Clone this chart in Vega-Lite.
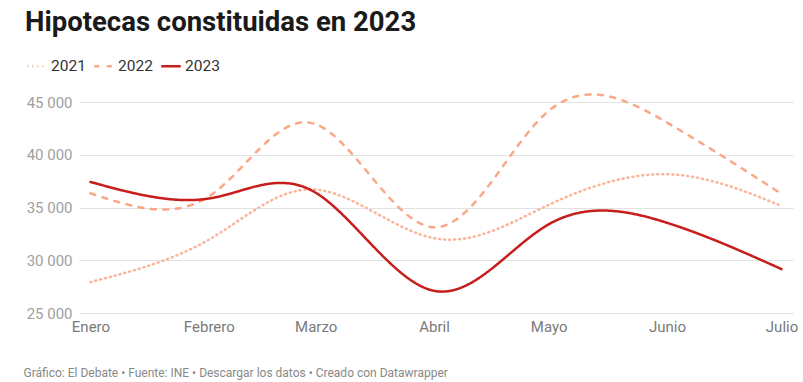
{
  "$schema": "https://vega.github.io/schema/vega-lite/v6.json",
  "autosize": {"type": "none"},
  "width": 714,
  "height": 211,
  "padding": {"left": 79, "top": 102, "right": 10, "bottom": 69},
  "background": "#ffffff",
  "title": {
    "text": "Hipotecas constituidas en 2023",
    "anchor": "start",
    "frame": "bounds",
    "font": "Roboto",
    "fontSize": 27.5,
    "fontWeight": "bold",
    "color": "#1a1a1a",
    "offset": 19,
    "dx": 2
  },
  "config": {
    "view": {"stroke": null},
    "font": "Roboto"
  },
  "data": {
    "values": [
      {"mes": "2023-01-01", "serie": "2021", "valor": 27930},
      {"mes": "2023-02-01", "serie": "2021", "valor": 31950},
      {"mes": "2023-03-01", "serie": "2021", "valor": 36700},
      {"mes": "2023-04-01", "serie": "2021", "valor": 32090},
      {"mes": "2023-05-01", "serie": "2021", "valor": 35250},
      {"mes": "2023-06-01", "serie": "2021", "valor": 38150},
      {"mes": "2023-07-01", "serie": "2021", "valor": 35150},
      {"mes": "2023-01-01", "serie": "2022", "valor": 36350},
      {"mes": "2023-02-01", "serie": "2022", "valor": 36050},
      {"mes": "2023-03-01", "serie": "2022", "valor": 42900},
      {"mes": "2023-04-01", "serie": "2022", "valor": 33130},
      {"mes": "2023-05-01", "serie": "2022", "valor": 44150},
      {"mes": "2023-06-01", "serie": "2022", "valor": 43050},
      {"mes": "2023-07-01", "serie": "2022", "valor": 36290},
      {"mes": "2023-01-01", "serie": "2023", "valor": 37420},
      {"mes": "2023-02-01", "serie": "2023", "valor": 35850},
      {"mes": "2023-03-01", "serie": "2023", "valor": 36400},
      {"mes": "2023-04-01", "serie": "2023", "valor": 27100},
      {"mes": "2023-05-01", "serie": "2023", "valor": 33400},
      {"mes": "2023-06-01", "serie": "2023", "valor": 33550},
      {"mes": "2023-07-01", "serie": "2023", "valor": 29160}
    ]
  },
  "mark": {"type": "line", "interpolate": "natural", "strokeWidth": 2.5, "strokeCap": "round"},
  "encoding": {
    "x": {
      "field": "mes",
      "type": "temporal",
      "scale": {"type": "utc", "domain": [1672272000000, 1688428800000]},
      "axis": {
        "title": "Gráfico: El Debate • Fuente: INE • Descargar los datos • Creado con Datawrapper",
        "titleFont": "Roboto",
        "titleFontSize": 12,
        "titleFontWeight": "normal",
        "titleColor": "#888888",
        "titleAnchor": "start",
        "titleAlign": "left",
        "titleBaseline": "alphabetic",
        "titleX": -56,
        "titleY": 63,
        "values": [1672531200000, 1675209600000, 1677628800000, 1680307200000, 1682899200000, 1685577600000, 1688169600000],
        "labelExpr": "['Enero','Febrero','Marzo','Abril','Mayo','Junio','Julio','Agosto','Septiembre','Octubre','Noviembre','Diciembre'][utcmonth(datum.value)]",
        "labelFont": "Roboto",
        "labelFontSize": 15,
        "labelColor": "#7a7a7a",
        "labelPadding": 6,
        "labelOverlap": false,
        "labelFlush": false,
        "domain": false,
        "ticks": false,
        "grid": false
      }
    },
    "y": {
      "field": "valor",
      "type": "quantitative",
      "scale": {"domain": [25000, 45000], "nice": false, "zero": false},
      "axis": {
        "title": null,
        "values": [25000, 30000, 35000, 40000, 45000],
        "labelExpr": "replace(format(datum.value, ','), ',', ' ')",
        "labelFont": "Roboto",
        "labelFontSize": 15,
        "labelColor": "#a0a0a0",
        "labelPadding": 7,
        "domain": false,
        "ticks": false,
        "grid": true,
        "gridColor": "#e2e2e2",
        "gridWidth": 1
      }
    },
    "color": {
      "field": "serie",
      "type": "nominal",
      "scale": {"domain": ["2021", "2022", "2023"], "range": ["#fbb497", "#f9a785", "#c71e1d"]},
      "legend": {
        "title": null,
        "orient": "none",
        "legendX": -53,
        "legendY": -47,
        "direction": "horizontal",
        "symbolType": "stroke",
        "symbolSize": 380,
        "symbolStrokeWidth": 2.5,
        "labelFont": "Roboto",
        "labelFontSize": 15.5,
        "labelColor": "#333333",
        "labelOffset": 3,
        "columnPadding": 3
      }
    },
    "strokeDash": {
      "field": "serie",
      "type": "nominal",
      "scale": {"domain": ["2021", "2022", "2023"], "range": [[1, 4], [5, 7.5], [1, 0]]},
      "legend": null
    }
  }
}
